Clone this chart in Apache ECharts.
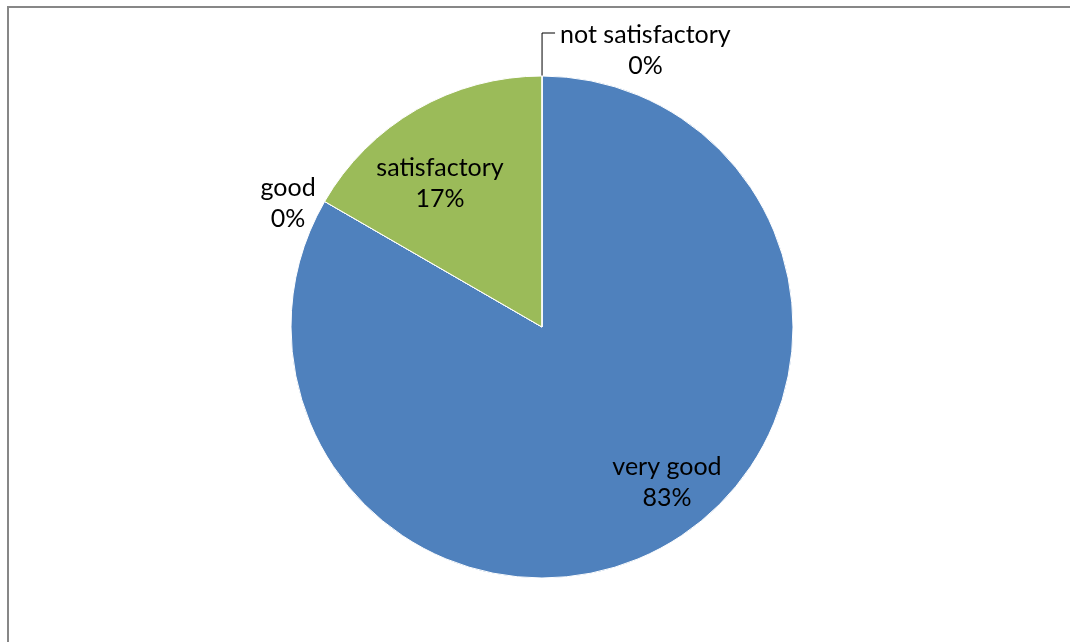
<!DOCTYPE html>
<html>
<head>
<meta charset="utf-8">
<script src="https://cdn.jsdelivr.net/npm/echarts@6/dist/echarts.min.js"></script>
<style>
html,body{margin:0;padding:0;background:#fff;}
#chart{width:1070px;height:642px;}
</style>
</head>
<body>
<div id="chart"></div>
<script>
const categories = ['very good', 'good', 'satisfactory', 'not satisfactory'];
const values = [5, 0, 1, 0];
const colors = ['#4F81BD', '#C0504D', '#9BBB59', '#8064A2'];

const FONT = 'Lato';
const FS = 25;
const LH = 31;

const chart = echarts.init(document.getElementById('chart'));

const pct = p => Math.round(p.percent) + '%';

// main pie: slices + outside labels for the zero slices
const mainData = categories.map((name, i) => {
  const item = { name, value: values[i], itemStyle: { color: colors[i] } };
  if (name === 'good') {
    item.label = { show: true, position: 'outside', formatter: p => '{n|' + p.name + '}\n{p|' + pct(p) + '}' };
    item.labelLine = { show: false, length: 0, length2: 4 };
  } else if (name === 'not satisfactory') {
    item.label = { show: true, position: 'outside', formatter: p => '{s| }\n{n|' + p.name + '}\n{p|' + pct(p) + '}' };
    item.labelLine = { show: true, length: 43, length2: 13, lineStyle: { color: '#000', width: 1 } };
  } else {
    item.label = { show: false };
    item.labelLine = { show: false };
  }
  return item;
});

// transparent overlay pie only for inner labels (placed further out than mid-radius)
const labelData = categories.map((name, i) => ({
  name, value: values[i],
  label: { show: values[i] > 0 }
}));

// small label nudges (Excel-like placement), by category index
const innerNudge = { 0: [33, -4], 2: [-10, 16] };

const richStyle = {
  s: { fontSize: 1, lineHeight: 35, fontFamily: FONT },
  n: { fontSize: FS, lineHeight: LH, fontFamily: FONT, color: '#000', align: 'center' },
  p: { fontSize: FS, lineHeight: LH, fontFamily: FONT, color: '#000', align: 'center' }
};

chart.setOption({
  backgroundColor: '#fff',
  animation: false,
  graphic: [{
    type: 'rect',
    shape: { x: 8, y: 7, width: 1200, height: 800 },
    style: { fill: 'none', stroke: '#878787', lineWidth: 2 },
    silent: true
  }],
  series: [
    {
      type: 'pie',
      center: [542, 327],
      radius: [0, 251],
      startAngle: 89.99,
      clockwise: true,
      avoidLabelOverlap: false,
      silent: true,
      data: mainData,
      itemStyle: { borderColor: '#fff', borderWidth: 1 },
      label: { fontFamily: FONT, fontSize: FS, color: '#000', distanceToLabelLine: 5, rich: richStyle },
      labelLine: { lineStyle: { color: '#000' } },
      labelLayout: p => (p.dataIndex === 1 ? { dy: 2 } : {})
    },
    {
      type: 'pie',
      center: [542, 327],
      radius: [0, 362],
      startAngle: 89.99,
      clockwise: true,
      avoidLabelOverlap: false,
      silent: true,
      data: labelData,
      itemStyle: { color: 'rgba(0,0,0,0)', borderWidth: 0 },
      label: {
        position: 'inside',
        fontFamily: FONT, fontSize: FS, lineHeight: LH, color: '#000',
        formatter: p => p.name + '\n' + pct(p)
      },
      labelLine: { show: false },
      labelLayout: p => {
        const n = innerNudge[p.dataIndex];
        return n ? { dx: n[0], dy: n[1] } : {};
      }
    }
  ]
});
</script>
</body>
</html>
